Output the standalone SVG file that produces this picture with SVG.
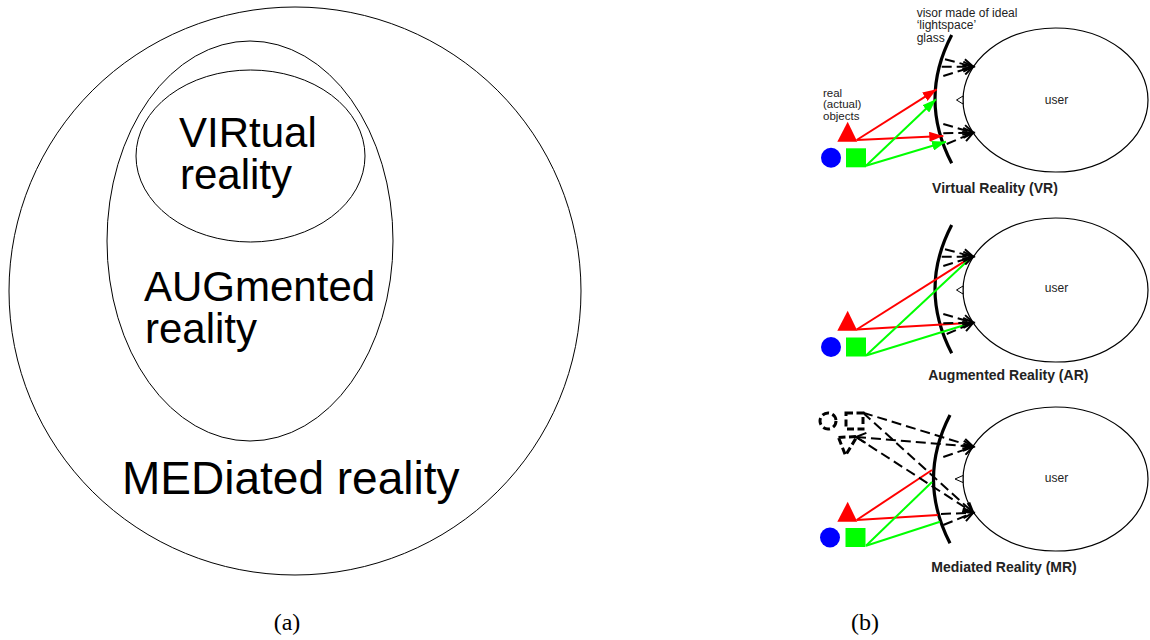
<svg xmlns="http://www.w3.org/2000/svg" width="1150" height="640" viewBox="0 0 1150 640">
<style>
.ring{fill:none;stroke:#000;stroke-width:1}
.big{font-family:"Liberation Sans",Arial,sans-serif;font-size:42px;fill:#000}
.cap{font-family:"Liberation Serif","Times New Roman",serif;font-size:24px;fill:#000;text-anchor:middle}
.sm{font-family:"Liberation Sans",Arial,sans-serif;font-size:12px;fill:#222}
.obj{font-size:11.5px}
.ttl{font-family:"Liberation Sans",Arial,sans-serif;font-size:14px;font-weight:bold;fill:#222;text-anchor:middle}
.visor{fill:none;stroke:#000;stroke-width:3.2}
.user{fill:#fff;stroke:#000;stroke-width:1.2}
.nose{fill:#fff;stroke:#000;stroke-width:1}
.red{stroke:#f00;stroke-width:2;fill:none}
.grn{stroke:#0f0;stroke-width:2;fill:none}
.dash{stroke:#000;stroke-width:2;fill:none;stroke-dasharray:10 5}
.vobj{fill:none;stroke:#000;stroke-width:3;stroke-dasharray:7 3.5}
</style>
<defs>
<marker id="hr" markerUnits="userSpaceOnUse" markerWidth="14" markerHeight="10" refX="14" refY="5" orient="auto" viewBox="0 0 14 10"><path d="M0,0 L14,5 L0,10 z" fill="#f00"/></marker>
<marker id="hg" markerUnits="userSpaceOnUse" markerWidth="14" markerHeight="10" refX="14" refY="5" orient="auto" viewBox="0 0 14 10"><path d="M0,0 L14,5 L0,10 z" fill="#0f0"/></marker>
<marker id="hk" markerUnits="userSpaceOnUse" markerWidth="14" markerHeight="12" refX="11" refY="6" orient="auto-start-reverse" viewBox="0 0 14 12"><path d="M1,1 L11,6 L1,11" fill="none" stroke="#000" stroke-width="2" stroke-dasharray="none"/></marker>
</defs>

<g id="panel-a">
  <g id="mediated"><ellipse class="ring" cx="295" cy="291" rx="286" ry="284"/><text class="big" x="122" y="494" style="font-size:46px">MEDiated reality</text></g>
  <g id="augmented"><ellipse class="ring" cx="250" cy="241" rx="143" ry="200"/><text class="big" x="144" y="301">AUGmented</text><text class="big" x="145" y="343">reality</text></g>
  <g id="virtual"><ellipse class="ring" cx="250.5" cy="156" rx="114.5" ry="86"/><text class="big" x="179" y="147">VIRtual</text><text class="big" x="180" y="189">reality</text></g>
  <text id="label-a" class="cap" x="287" y="630">(a)</text>
</g>

<g id="panel-b">
  <text id="label-b" class="cap" x="865" y="630">(b)</text>
  <g id="vr">
    <text class="sm" x="916.7" y="16.7">visor made of ideal</text>
    <text class="sm" x="916.7" y="29.3">‘lightspace’</text>
    <text class="sm" x="916.7" y="41.7">glass</text>
    <text class="sm obj" x="823" y="96.5">real</text>
    <text class="sm obj" x="823" y="108.2">(actual)</text>
    <text class="sm obj" x="823" y="119.8">objects</text>
    <g id="vr-user"><ellipse class="user" cx="1055.5" cy="100" rx="92.5" ry="72"/><text class="sm" x="1056.5" y="104" text-anchor="middle">user</text></g>
    <polygon class="nose" points="963,96 956.5,100 963,104"/>
    <path id="vr-visor" class="visor" d="M951.7,35 Q918.3,99 951.7,163.3"/>
    <polygon id="vr-tri" points="847.7,121.7 837.3,141.7 857.3,141.7" fill="#f00"/>
    <circle id="vr-circ" cx="831" cy="157.7" r="10" fill="#00f"/>
    <rect id="vr-sq" x="846" y="148.3" width="20" height="19" fill="#0f0"/>
    <text class="ttl" x="995" y="193.3">Virtual Reality (VR)</text>
  </g>
  <g id="ar">
    <g id="ar-user"><ellipse class="user" cx="1055.5" cy="290" rx="92.5" ry="72"/><text class="sm" x="1056.5" y="292" text-anchor="middle">user</text></g>
    <polygon class="nose" points="963,286 956.5,290 963,294"/>
    <path id="ar-visor" class="visor" d="M951.7,225 Q918.3,289 951.7,353.3"/>
    <polygon id="ar-tri" points="847.7,310.7 837.3,330.7 857.3,330.7" fill="#f00"/>
    <circle id="ar-circ" cx="831" cy="347" r="10" fill="#00f"/>
    <rect id="ar-sq" x="846" y="337.5" width="20" height="19" fill="#0f0"/>
    <text class="ttl" x="1008.3" y="380">Augmented Reality (AR)</text>
  </g>
  <g id="mr">
    <g id="mr-user"><ellipse class="user" cx="1055.5" cy="479" rx="92.5" ry="72"/><text class="sm" x="1056.5" y="482" text-anchor="middle">user</text></g>
    <polygon class="nose" points="963,475.5 955,479 963,482.5"/>
    <path id="mr-visor" class="visor" d="M950,415 Q917,479 950,543.3"/>
    <polygon id="mr-tri" points="847.7,501.7 837.3,521.7 857.3,521.7" fill="#f00"/>
    <circle id="mr-circ" cx="830" cy="537.5" r="10" fill="#00f"/>
    <rect id="mr-sq" x="845.5" y="528" width="20" height="19" fill="#0f0"/>
    <circle id="mr-vcirc" class="vobj" cx="828" cy="421" r="8"/>
    <rect id="mr-vsq" class="vobj" x="846" y="413" width="17" height="16"/>
    <polygon id="mr-vtri" class="vobj" points="838.5,437.5 857,436.5 845.5,455.5"/>
    <text class="ttl" x="1004" y="571.7">Mediated Reality (MR)</text>
  </g>
</g>

<g id="connectors">
  <!-- VR -->
  <line class="red" x1="856.7" y1="140" x2="936.7" y2="89.3" marker-end="url(#hr)"/>
  <line class="red" x1="856.7" y1="140" x2="943.3" y2="136" marker-end="url(#hr)"/>
  <line class="grn" x1="866" y1="165.7" x2="936" y2="99.3" marker-end="url(#hg)"/>
  <line class="grn" x1="866" y1="165.7" x2="946" y2="141.7" marker-end="url(#hg)"/>
  <line class="dash" x1="945" y1="59.3" x2="973.3" y2="66.7" marker-end="url(#hk)"/>
  <line class="dash" x1="941.7" y1="66.7" x2="973.3" y2="66.7" marker-end="url(#hk)"/>
  <line class="dash" x1="943.3" y1="76" x2="973.3" y2="66.7" marker-end="url(#hk)"/>
  <line class="dash" x1="943.3" y1="124" x2="973.3" y2="132.7" marker-end="url(#hk)"/>
  <line class="dash" x1="943.3" y1="133.3" x2="973.3" y2="132.7" marker-end="url(#hk)"/>
  <line class="dash" x1="946.7" y1="144" x2="973.3" y2="132.7" marker-end="url(#hk)"/>
  <!-- AR -->
  <line class="red" x1="856.7" y1="329.5" x2="972" y2="256.7"/>
  <line class="red" x1="856.7" y1="329.5" x2="972" y2="322.7"/>
  <line class="grn" x1="866" y1="355.5" x2="972" y2="256.7"/>
  <line class="grn" x1="866" y1="355.5" x2="972" y2="322.7"/>
  <line class="dash" x1="945" y1="249.3" x2="973.3" y2="256.7" marker-end="url(#hk)"/>
  <line class="dash" x1="941.7" y1="256.7" x2="973.3" y2="256.7" marker-end="url(#hk)"/>
  <line class="dash" x1="943.3" y1="266" x2="973.3" y2="256.7" marker-end="url(#hk)"/>
  <line class="dash" x1="943.3" y1="314" x2="973.3" y2="322.7" marker-end="url(#hk)"/>
  <line class="dash" x1="943.3" y1="323.3" x2="973.3" y2="322.7" marker-end="url(#hk)"/>
  <line class="dash" x1="946.7" y1="334" x2="973.3" y2="322.7" marker-end="url(#hk)"/>
  <!-- MR -->
  <line class="red" x1="856.7" y1="520" x2="932" y2="470"/>
  <line class="red" x1="856.7" y1="520" x2="938" y2="515"/>
  <line class="grn" x1="866" y1="545.7" x2="932" y2="482"/>
  <line class="grn" x1="866" y1="545.7" x2="940" y2="521.7"/>
  <line class="dash" x1="943.3" y1="457" x2="973.3" y2="446.7" marker-end="url(#hk)"/>
  <line class="dash" x1="941" y1="514" x2="973.3" y2="512.7" marker-end="url(#hk)"/>
  <line class="dash" x1="943.3" y1="525" x2="973.3" y2="512.7" marker-end="url(#hk)"/>
  <line class="dash" x1="863" y1="412.7" x2="973.3" y2="446.7" marker-end="url(#hk)"/>
  <line class="dash" x1="863" y1="412.7" x2="973.3" y2="512.7" marker-end="url(#hk)"/>
  <line class="dash" x1="856" y1="437" x2="973.3" y2="446.7" marker-start="url(#hk)" marker-end="url(#hk)"/>
  <line class="dash" x1="856" y1="437" x2="973.3" y2="512.7" marker-end="url(#hk)"/>
</g>
</svg>
